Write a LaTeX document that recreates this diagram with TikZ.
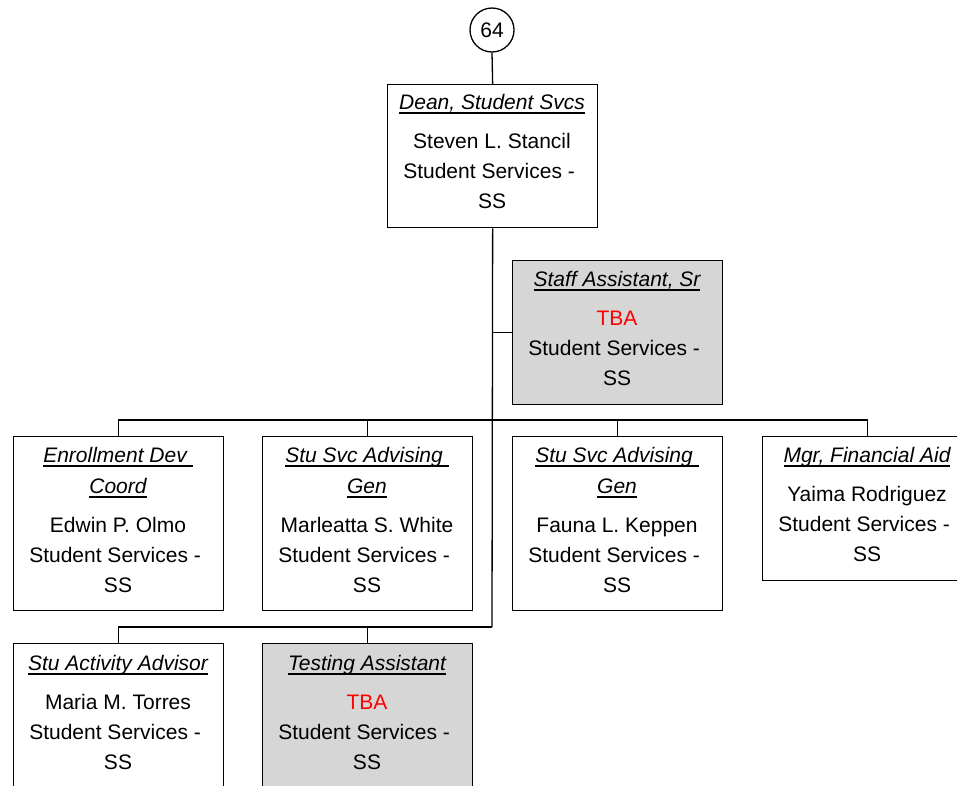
\documentclass[tikz,border=0pt]{standalone}
\usepackage{fontspec}
\setmainfont{Liberation Sans}
\newcommand\ttl[1]{\setbox0\hbox{\itshape #1}\leavevmode\rlap{\copy0}\raisebox{-5pt}{\vrule width\wd0 height 2pt depth 0pt}}
\newcommand\tline[4]{\node[ln] (#1) at (#2,-#3) {#4};}
\newcommand\ssl{\hbox{Student Services -\ }}
\begin{document}
\begin{tikzpicture}[x=1pt,y=1pt,
  box/.style={draw=black, line width=1.3pt, minimum width=210pt, inner sep=0pt, anchor=north west},
  vac/.style={fill=gray!32},
  ln/.style={anchor=base, inner sep=0pt, font=\fontsize{21}{25}\selectfont},
  conn/.style={draw=black, line width=1.3pt},
  tba/.style={text=red}]
\useasboundingbox (0,0) rectangle (957,-785);
\clip (0,0) rectangle (957,-785);
% page connector
\node[draw=black, line width=1.3pt, circle, minimum size=44pt, inner sep=0pt, font=\fontsize{21}{25}\selectfont] (c64) at (492,-30) {64};
% boxes
\node[box, minimum height=143pt] (dean) at (387,-84) {};
\node[box, vac, minimum height=144pt] (staff) at (512,-260) {};
\node[box, minimum height=174pt] (enr) at (13,-436) {};
\node[box, minimum height=174pt] (adv1) at (262,-436) {};
\node[box, minimum height=174pt] (adv2) at (512,-436) {};
\node[box, minimum height=144pt] (mgr) at (762,-436) {};
\node[box, minimum height=144pt] (act) at (13,-643) {};
\node[box, vac, minimum height=144pt] (test) at (262,-643) {};
% texts
\tline{dean1}{492}{109}{\ttl{Dean, Student Svcs}}
\tline{dean2}{492}{148}{Steven L. Stancil}
\tline{dean3}{492}{178}{\ssl}
\tline{dean4}{492}{208}{SS}
\tline{staff1}{617}{286}{\ttl{Staff Assistant, Sr}}
\tline{staff2}{617}{325}{\textcolor{red}{TBA}}
\tline{staff3}{617}{355}{\ssl}
\tline{staff4}{617}{385}{SS}
\tline{enr1}{118}{462}{\ttl{Enrollment Dev\ }}
\tline{enr2}{118}{493}{\ttl{Coord}}
\tline{enr3}{118}{532}{Edwin P. Olmo}
\tline{enr4}{118}{562}{\ssl}
\tline{enr5}{118}{592}{SS}
\tline{adva1}{367}{462}{\ttl{Stu Svc Advising\ }}
\tline{adva2}{367}{493}{\ttl{Gen}}
\tline{adva3}{367}{532}{Marleatta S. White}
\tline{adva4}{367}{562}{\ssl}
\tline{adva5}{367}{592}{SS}
\tline{advb1}{617}{462}{\ttl{Stu Svc Advising\ }}
\tline{advb2}{617}{493}{\ttl{Gen}}
\tline{advb3}{617}{532}{Fauna L. Keppen}
\tline{advb4}{617}{562}{\ssl}
\tline{advb5}{617}{592}{SS}
\tline{mgr1}{867}{462}{\ttl{Mgr, Financial Aid}}
\tline{mgr2}{867}{501}{Yaima Rodriguez}
\tline{mgr3}{867}{531}{\ssl}
\tline{mgr4}{867}{561}{SS}
\tline{act1}{118}{670}{\ttl{Stu Activity Advisor}}
\tline{act2}{118}{709}{Maria M. Torres}
\tline{act3}{118}{739}{\ssl}
\tline{act4}{118}{769}{SS}
\tline{test1}{367}{670}{\ttl{Testing Assistant}}
\tline{test2}{367}{709}{\textcolor{red}{TBA}}
\tline{test3}{367}{739}{\ssl}
\tline{test4}{367}{769}{SS}
% connectors
\coordinate (bus1) at (492,-420);
\coordinate (tend) at (492,-627);
\draw[conn] (c64.south) -- (dean.north);
\draw[conn] (dean.south) -- (tend);
\draw[conn] (staff.west) -- (staff.west -| tend);
\draw[conn] (enr.north) |- (bus1) -| (mgr.north);
\draw[conn] (adv1.north) |- (bus1);
\draw[conn] (adv2.north) |- (bus1);
\draw[conn] (act.north) |- (tend);
\draw[conn] (test.north) |- (tend);
\end{tikzpicture}
\end{document}
